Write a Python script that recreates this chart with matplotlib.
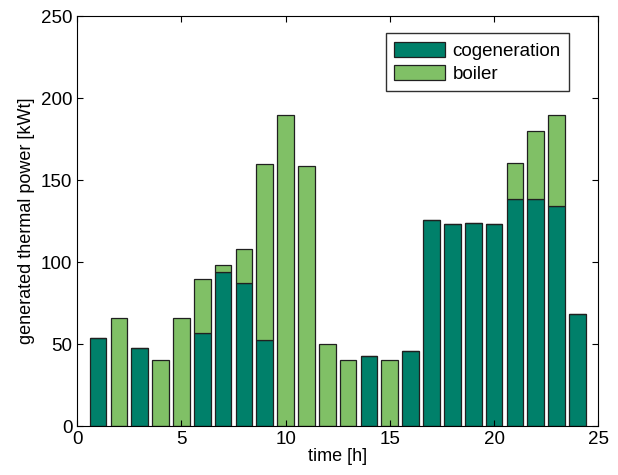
import matplotlib
matplotlib.use("Agg")
import matplotlib.pyplot as plt
import numpy as np

plt.rcParams['font.family'] = ['Liberation Sans', 'DejaVu Sans']

hours = list(range(1, 25))
cogeneration = [54, 0, 47.5, 0, 0, 57, 94, 87, 52.5, 0, 0, 0,
                0, 42.5, 0, 46, 125.5, 123, 124, 123, 138.5, 138.5, 134, 68.5]
boiler = [0, 66, 0, 40, 66, 33, 4.5, 21, 107.5, 190, 158.5, 50,
          40, 0, 40, 0, 0, 0, 0, 0, 22, 41.5, 56, 0]

dark = '#00806a'
light = '#80c066'

fig = plt.figure(figsize=(6.18, 4.75), dpi=100)
ax = fig.add_axes([0.125, 0.103, 0.843, 0.863])

ax.bar(hours, cogeneration, width=0.8, color=dark, edgecolor='#202020',
       linewidth=0.9, label='cogeneration')
ax.bar(hours, boiler, width=0.8, bottom=cogeneration, color=light,
       edgecolor='#202020', linewidth=0.9, label='boiler')

ax.set_xlim(0, 25)
ax.set_ylim(0, 250)
ax.set_xticks([0, 5, 10, 15, 20, 25])
ax.set_yticks([0, 50, 100, 150, 200, 250])
ax.tick_params(direction='in', top=True, right=True, labelsize=13.5, length=4)
ax.set_xlabel('time [h]', fontsize=13, labelpad=0)
ax.set_ylabel('generated thermal power [kWt]', fontsize=13, labelpad=4)

ax.legend(loc='upper right', bbox_to_anchor=(0.944, 0.9585), fontsize=13.5,
          fancybox=False, framealpha=1, edgecolor='#303030', borderaxespad=0,
          handlelength=2.7, handleheight=0.9, labelspacing=0.25,
          borderpad=0.45, handletextpad=0.4)

fig.savefig('out.png', dpi=100)
